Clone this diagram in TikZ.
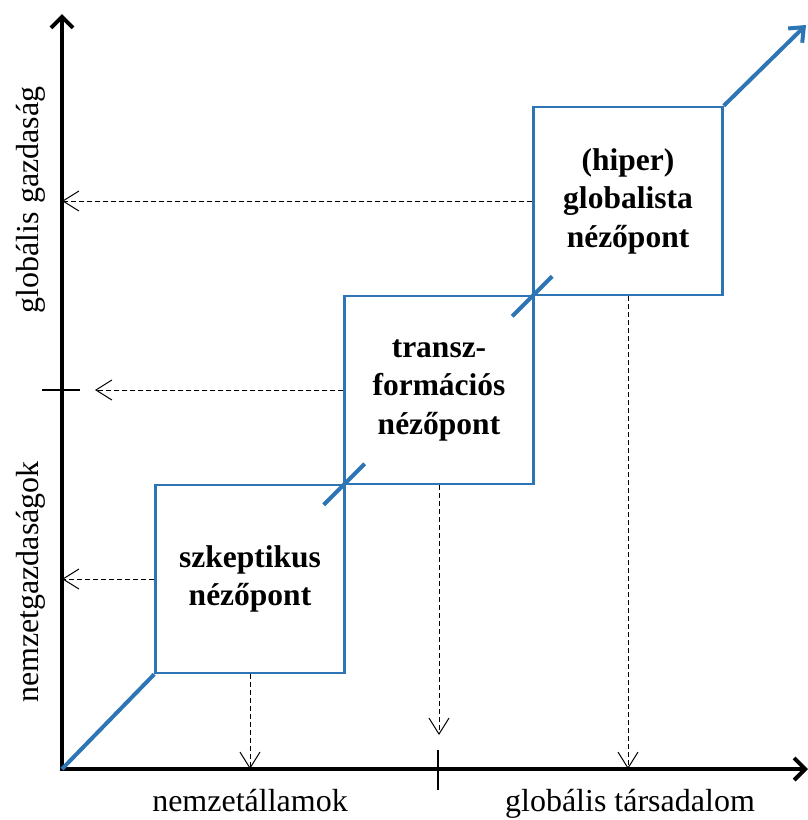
\documentclass[tikz,border=0pt]{standalone}
\usepackage{fontspec}
\setmainfont{Liberation Serif}
\usetikzlibrary{positioning, arrows.meta, calc}
\definecolor{blueline}{RGB}{46,117,182}

\begin{document}
\begin{tikzpicture}[x=1pt, y=-1pt,
  axis/.style={line width=4pt, {Straight Barb[length=11pt,width=22pt]}-{Straight Barb[length=11pt,width=22pt]}},
  view node/.style={draw=blueline, line width=2.5pt, minimum width=189pt, minimum height=188pt,
    align=center, font=\fontsize{31.5}{38.5}\selectfont\bfseries},
  guide/.style={dash pattern=on 5pt off 3pt, line width=1pt, -{Straight Barb[length=16pt,width=20pt]}},
  trend/.style={draw=blueline, line width=4pt},
  axis label/.style={font=\fontsize{32}{38.5}\selectfont}]

\useasboundingbox (0,0) rectangle (808,820);

\coordinate (O) at (62,769);
\coordinate (ytop) at (62,14);
\coordinate (xend) at (808,769);

\node[view node] (szkep) at (250,579) {szkeptikus\\nézőpont};
\node[view node] (transz) at (439,390) {transz-\\formációs\\nézőpont};
\node[view node] (hiper) at (628,201) {(hiper)\\globalista\\nézőpont};

\draw[axis] (ytop) -- (O) -- (xend);
\draw[line width=2.5pt] (42,390) -- (80,390);
\draw[line width=2.5pt] (438,750) -- (438,790);

% trend line
\draw[trend] (O) -- (szkep.south west);
\draw[trend] ($(szkep.north east)+(-22,21)$) -- ($(szkep.north east)+(19,-20)$);
\draw[trend] ($(hiper.south west)+(-20,20)$) -- ($(hiper.south west)+(20,-20)$);
\coordinate (tip) at (806,25);
\draw[trend, -{Straight Barb[length=12pt,width=20pt]}] (hiper.north east) -- (tip);

% projections
\coordinate (tleft) at (95,390);
\coordinate (tdown) at (439,735);
\draw[guide] (szkep.west) -- (szkep.west -| O);
\draw[guide] (transz.west) -- (tleft);
\draw[guide] (hiper.west) -- (hiper.west -| O);
\draw[guide] (szkep.south) -- (szkep.south |- O);
\draw[guide] (transz.south) -- (tdown);
\draw[guide] (hiper.south) -- (hiper.south |- O);

\node[axis label, rotate=90, anchor=base] (gg) at (38,200) {globális gazdaság};
\node[axis label, rotate=90, anchor=base] (ng) at (38,582) {nemzetgazdaságok};
\node[axis label, anchor=base] (na) at (250,811) {nemzetállamok};
\node[axis label, anchor=base] (gt) at (630,811) {globális társadalom};

\end{tikzpicture}
\end{document}
